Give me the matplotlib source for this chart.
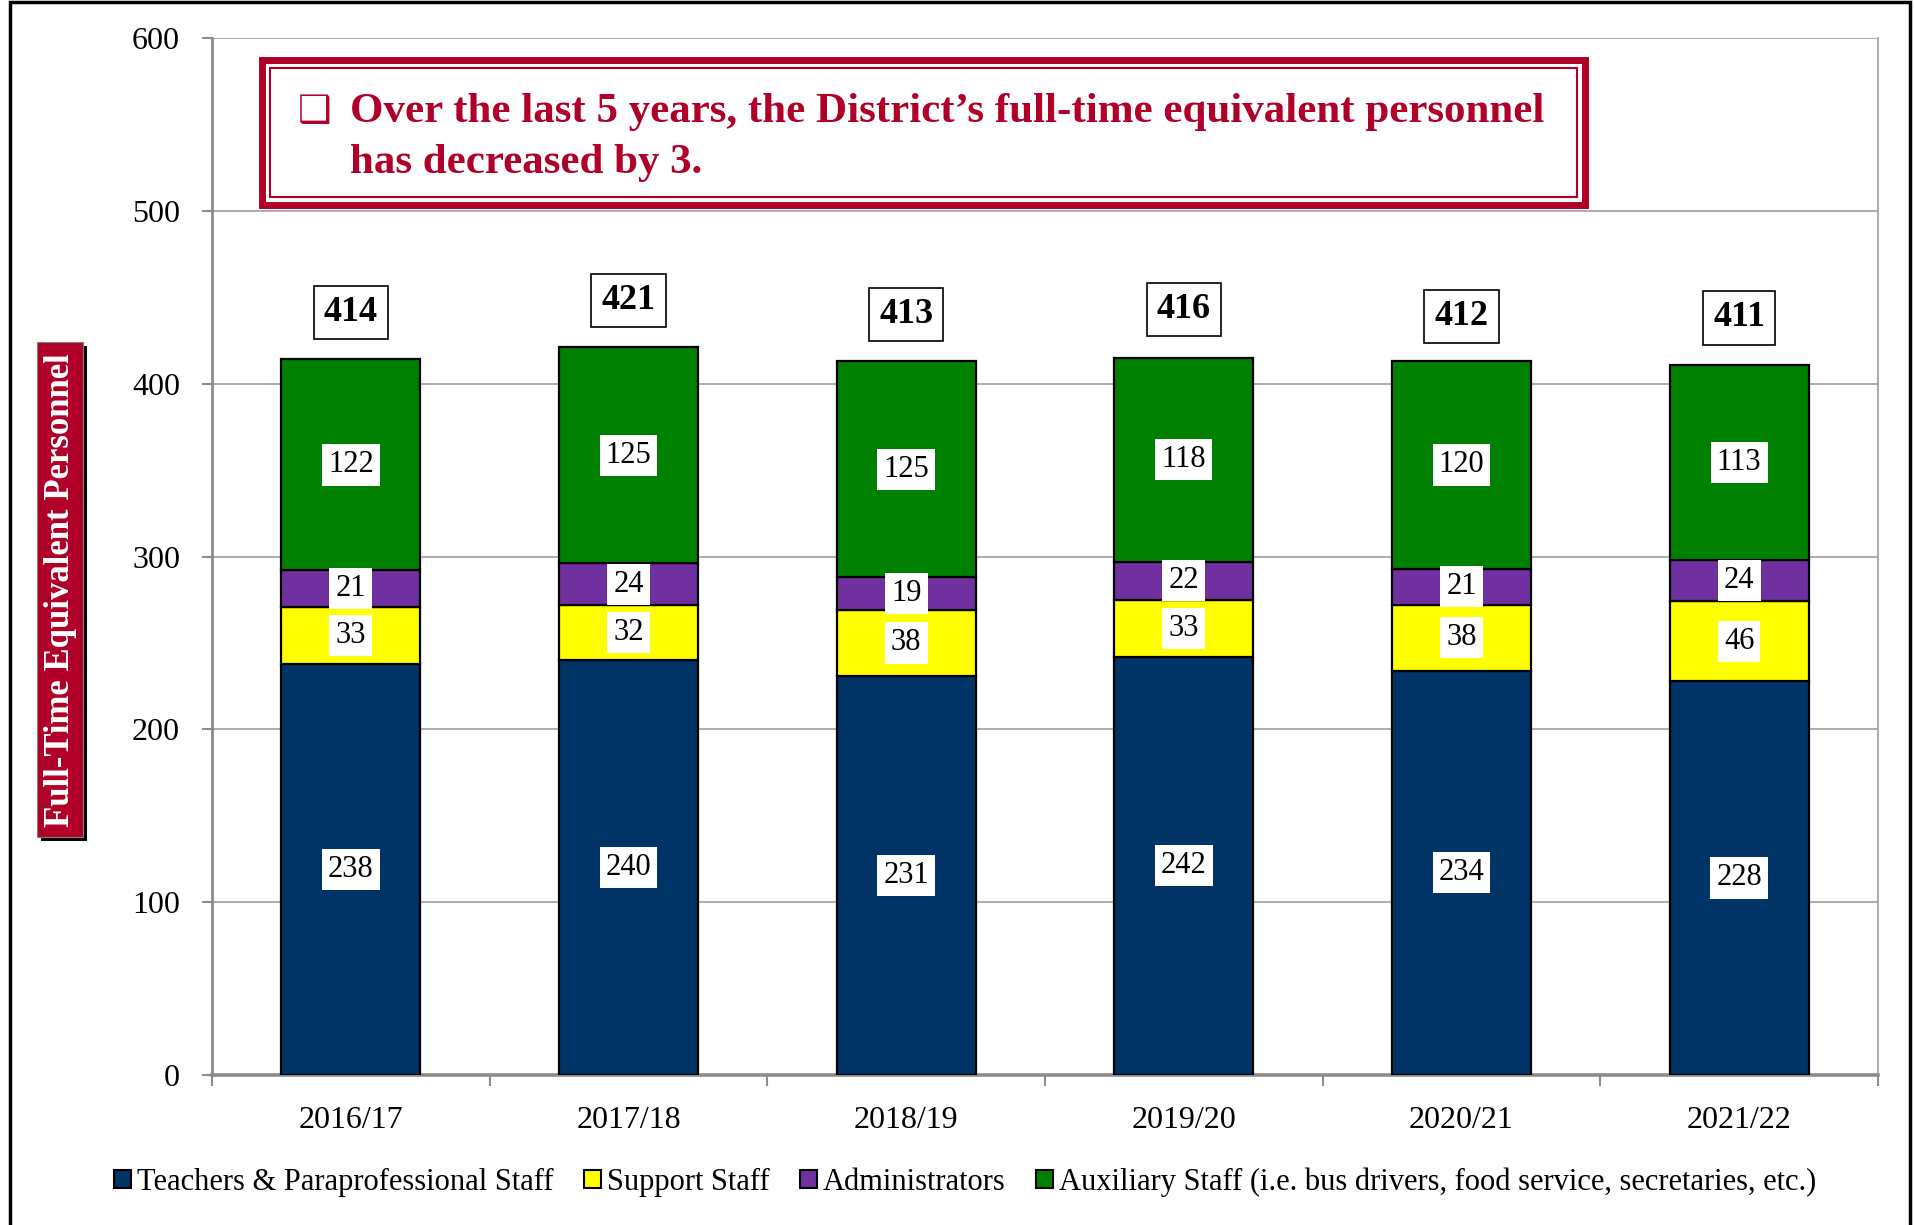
import matplotlib.pyplot as plt
from matplotlib.patches import Rectangle

years = ['2016/17', '2017/18', '2018/19', '2019/20', '2020/21', '2021/22']
teachers = [238, 240, 231, 242, 234, 228]
support = [33, 32, 38, 33, 38, 46]
admins = [21, 24, 19, 22, 21, 24]
auxiliary = [122, 125, 125, 118, 120, 113]
totals = [414, 421, 413, 416, 412, 411]

series = [
    ('Teachers & Paraprofessional Staff', teachers, '#003366'),
    ('Support Staff', support, '#FFFF00'),
    ('Administrators', admins, '#7030A0'),
    ('Auxiliary Staff (i.e. bus drivers, food service, secretaries, etc.)', auxiliary, '#008000'),
]

red = '#B00028'
W, H = 1915, 1225
plt.rcParams['font.family'] = ['Liberation Serif', 'DejaVu Serif']

fig = plt.figure(figsize=(W / 100, H / 100), dpi=100)


def fx(px):
    return px / W


def fy(py):
    return 1 - py / H


ax = fig.add_axes([fx(212), fy(1075), fx(1878) - fx(212), fy(38) - fy(1075)])

x = list(range(len(years)))
bottom = [0] * len(years)
for name, vals, col in series:
    ax.bar(x, vals, 0.5, bottom=bottom, color=col, edgecolor='black', linewidth=1.6,
           label=name, zorder=3)
    for i, v in enumerate(vals):
        ax.text(i, bottom[i] + v / 2, str(v), ha='center', va='center', fontsize=22,
                zorder=4, bbox=dict(boxstyle='square,pad=0.2', fc='white', ec='none'))
    bottom = [b + v for b, v in zip(bottom, vals)]

for i, t in enumerate(totals):
    ax.text(i, t + 27, str(t), ha='center', va='center', fontsize=26, fontweight='bold',
            zorder=4, bbox=dict(boxstyle='square,pad=0.28', fc='white', ec='black', lw=1.2))

ax.set_xlim(-0.5, 5.5)
ax.set_ylim(0, 600)
ax.set_yticks(range(0, 601, 100))
ax.yaxis.grid(True, color='#A6A6A6', linewidth=1.3, zorder=0)
ax.set_axisbelow(True)
ax.set_xticks([i - 0.5 for i in range(len(years) + 1)])
ax.set_xticklabels([])
ax.set_xticks(x, minor=True)
ax.set_xticklabels(years, minor=True)
ax.tick_params(axis='x', which='major', length=8, width=1.5, color='#8C8C8C', direction='out')
ax.tick_params(axis='x', which='minor', length=0, labelsize=23, pad=22)
ax.tick_params(axis='y', length=7, width=1.5, color='#8C8C8C', labelsize=23, pad=16)
ax.spines['top'].set_visible(False)
ax.spines['right'].set_color('#A6A6A6')
ax.spines['right'].set_linewidth(1.3)
ax.spines['left'].set_color('#8C8C8C')
ax.spines['left'].set_linewidth(2)
ax.spines['bottom'].set_color('#8C8C8C')
ax.spines['bottom'].set_linewidth(2.6)

# title box
fig.patches.append(Rectangle((fx(262), fy(205)), fx(1585) - fx(262), fy(60) - fy(205),
                             transform=fig.transFigure, fill=True, fc='white',
                             ec=red, lw=5, zorder=5))
fig.patches.append(Rectangle((fx(270), fy(197)), fx(1577) - fx(270), fy(68) - fy(197),
                             transform=fig.transFigure, fill=False, ec=red, lw=1.5,
                             zorder=6))
fig.text(fx(298), fy(122), '\u2751', color=red, fontsize=27, fontweight='bold',
         family=['DejaVu Sans'], va='baseline', zorder=7)
fig.text(fx(350), fy(122), 'Over the last 5 years, the District\u2019s full-time equivalent personnel',
         color=red, fontsize=31, fontweight='bold', va='baseline', zorder=7)
fig.text(fx(350), fy(173), 'has decreased by 3.',
         color=red, fontsize=31, fontweight='bold', va='baseline', zorder=7)

# y label box with shadow
fig.patches.append(Rectangle((fx(41), fy(841)), fx(83) - fx(37), fy(342) - fy(837),
                             transform=fig.transFigure, fc='black', ec='none', zorder=5))
fig.patches.append(Rectangle((fx(37), fy(837)), fx(83) - fx(37), fy(342) - fy(837),
                             transform=fig.transFigure, fc=red, ec='#808080', lw=0.8,
                             zorder=6))
fig.text(fx(61), fy(590), 'Full-Time Equivalent Personnel', rotation=90, color='white',
         fontsize=25, fontweight='bold', ha='center', va='center', zorder=7)

# figure border
fig.patches.append(Rectangle((fx(10), -0.01), fx(1910) - fx(10), fy(2) + 0.01,
                             transform=fig.transFigure, fill=False, ec='black', lw=2.5))

handles = [Rectangle((0, 0), 1, 1, fc=col, ec='black', lw=1.5) for _, _, col in series]
fig.legend(handles, [s[0] for s in series], loc='center', bbox_to_anchor=(fx(965), fy(1182)),
           ncol=4, frameon=False, fontsize=22, handlelength=0.55, handleheight=0.55,
           handletextpad=0.2, columnspacing=1.0)

fig.savefig('out.png', dpi=100)
